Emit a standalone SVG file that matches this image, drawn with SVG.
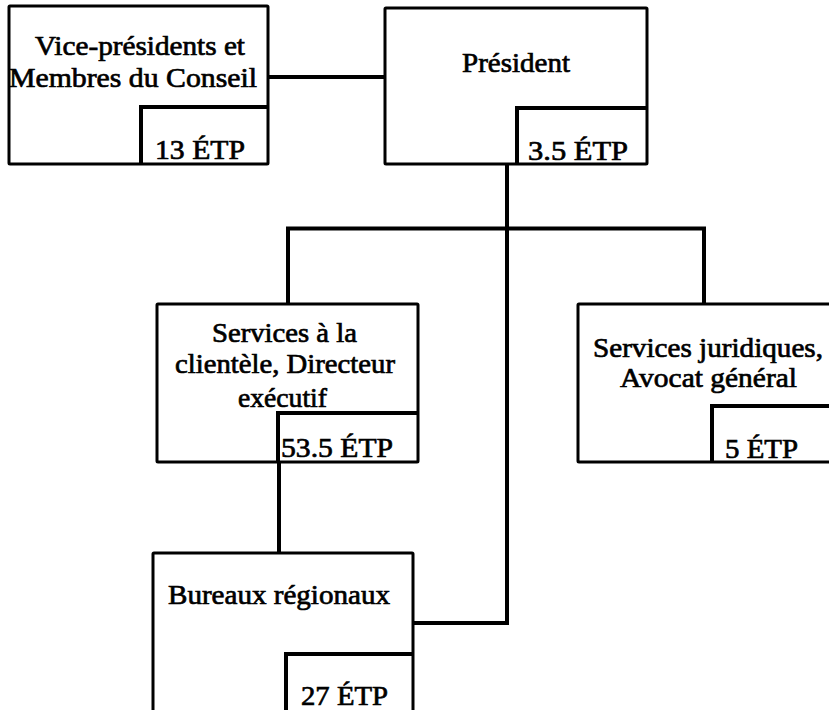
<svg xmlns="http://www.w3.org/2000/svg" width="829" height="710" viewBox="0 0 829 710">
<style>
.box{fill:#fff;stroke:#000;stroke-width:3}
.inner{fill:none;stroke:#000;stroke-width:4}
.conn{fill:none;stroke:#000;stroke-width:4}
.t{font-family:'Liberation Serif','DejaVu Serif',serif;font-size:28px;fill:#000;stroke:#000;stroke-width:0.7}
</style>
<rect width="829" height="710" fill="#fff"/>
<g id="connectors">
<path class="conn" d="M268 77H386"/>
<path class="conn" d="M507 164V623H413"/>
<path class="conn" d="M288 305V228.5H704V305"/>
<path class="conn" d="M279 462V553"/>
</g>
<g id="vp">
<rect class="box" x="9" y="6" width="259" height="158" rx="1"/>
<path class="inner" d="M141 164V107H268"/>
<text class="t" x="35" y="55" textLength="210" lengthAdjust="spacingAndGlyphs">Vice-présidents et</text>
<text class="t" x="9" y="87" textLength="248" lengthAdjust="spacingAndGlyphs">Membres du Conseil</text>
<text class="t" x="155" y="159" textLength="90" lengthAdjust="spacingAndGlyphs">13 ÉTP</text>
</g>
<g id="president">
<rect class="box" x="385" y="8" width="262" height="156" rx="1"/>
<path class="inner" d="M517 164V108H647"/>
<text class="t" x="462" y="72" textLength="108" lengthAdjust="spacingAndGlyphs">Président</text>
<text class="t" x="528" y="160" textLength="100" lengthAdjust="spacingAndGlyphs">3.5 ÉTP</text>
</g>
<g id="clientele">
<rect class="box" x="157" y="304" width="261" height="158" rx="1"/>
<path class="inner" d="M278 462V413H418"/>
<text class="t" x="212" y="342" textLength="145" lengthAdjust="spacingAndGlyphs">Services à la</text>
<text class="t" x="175" y="373" textLength="220" lengthAdjust="spacingAndGlyphs">clientèle, Directeur</text>
<text class="t" x="238" y="407" textLength="89" lengthAdjust="spacingAndGlyphs">exécutif</text>
<text class="t" x="281" y="457" textLength="112" lengthAdjust="spacingAndGlyphs">53.5 ÉTP</text>
</g>
<g id="juridiques">
<rect class="box" x="578" y="304" width="262" height="158" rx="1"/>
<path class="inner" d="M712 462V406H840"/>
<text class="t" x="593" y="357" textLength="230" lengthAdjust="spacingAndGlyphs">Services juridiques,</text>
<text class="t" x="620" y="387" textLength="177" lengthAdjust="spacingAndGlyphs">Avocat général</text>
<text class="t" x="725" y="458" textLength="73" lengthAdjust="spacingAndGlyphs">5 ÉTP</text>
</g>
<g id="bureaux">
<rect class="box" x="153" y="553" width="260" height="170" rx="1"/>
<path class="inner" d="M286 712V654H413"/>
<text class="t" x="168" y="604" textLength="222" lengthAdjust="spacingAndGlyphs">Bureaux régionaux</text>
<text class="t" x="301" y="705" textLength="87" lengthAdjust="spacingAndGlyphs">27 ÉTP</text>
</g>
</svg>
